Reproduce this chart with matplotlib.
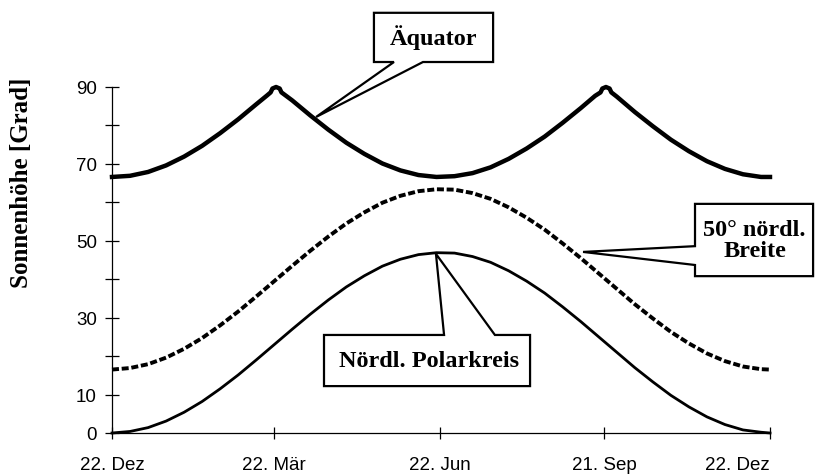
import matplotlib
matplotlib.use('Agg')
import matplotlib.pyplot as plt
from matplotlib.patches import Polygon

# days counted from 22 Dec
days = [0, 10, 20, 30, 40, 50, 60, 70, 80, 90, 100, 110, 120, 130, 140, 150, 160, 170, 180,
        190, 200, 210, 220, 230, 240, 250, 260, 270, 280, 290, 300, 310, 320, 330, 340, 350, 360, 365]
polarkreis = [0.0, 0.4, 1.4, 3.1, 5.4, 8.2, 11.5, 15.1, 19.0, 23.0, 27.0, 30.9, 34.6, 38.0, 40.9, 43.4,
              45.2, 46.4, 46.9, 46.8, 45.9, 44.4, 42.2, 39.5, 36.4, 32.8, 29.0, 25.0, 21.0, 17.0, 13.3,
              9.8, 6.8, 4.2, 2.2, 0.8, 0.2, 0.0]
breite50 = [16.5, 16.9, 17.9, 19.6, 21.9, 24.7, 28.0, 31.6, 35.5, 39.5, 43.5, 47.4, 51.1, 54.5, 57.4, 59.9,
            61.7, 62.9, 63.4, 63.3, 62.4, 60.9, 58.7, 56.0, 52.9, 49.3, 45.5, 41.5, 37.5, 33.5, 29.8,
            26.3, 23.3, 20.7, 18.7, 17.3, 16.6, 16.5]
days_aeq = [0, 10, 20, 30, 40, 50, 60, 70, 80, 86, 88, 89, 91, 93, 94, 96, 100, 110, 120, 130, 140, 150,
            160, 170, 180, 190, 200, 210, 220, 230, 240, 250, 260, 268, 271, 272, 274, 276, 277, 280,
            290, 300, 310, 320, 330, 340, 350, 360, 365]
aequator = [66.6, 66.9, 67.9, 69.6, 71.9, 74.7, 78.0, 81.6, 85.5, 87.8, 88.6, 89.6, 90.0, 89.6, 88.6, 87.9,
            86.5, 82.6, 78.9, 75.5, 72.6, 70.1, 68.3, 67.1, 66.6, 66.8, 67.6, 69.1, 71.3, 74.0, 77.1,
            80.7, 84.5, 87.7, 88.6, 89.6, 90.0, 89.6, 88.6, 87.5, 83.5, 79.8, 76.3, 73.3, 70.7, 68.7,
            67.3, 66.6, 66.6]

tick_days = [0, 90, 182, 273, 365]
tick_labels = ['22. Dez', '22. Mär', '22. Jun', '21. Sep', '22. Dez']

fig = plt.figure(figsize=(8.15, 4.77), dpi=100)
ax = fig.add_axes([112/815, 43/477, 658/815, 346/477])

ax.plot(days_aeq, aequator, color='black', lw=3.2, solid_joinstyle='round', clip_on=False)
ax.plot(days, breite50, color='black', lw=2.8, linestyle=(0, (1.8, 0.7)), clip_on=False)
ax.plot(days, polarkreis, color='black', lw=2.0, clip_on=False)

ax.set_xlim(0, 365)
ax.set_ylim(0, 90)
for s in ['top', 'right']:
    ax.spines[s].set_visible(False)
for s in ['left', 'bottom']:
    ax.spines[s].set_linewidth(0.9)

ax.set_yticks([0, 10, 30, 50, 70, 90])
ax.set_yticks([20, 40, 60, 80], minor=True)
ax.set_xticks(tick_days)
ax.set_xticklabels(tick_labels)
ax.tick_params(axis='y', which='both', direction='inout', length=10, width=0.9, pad=6,
               labelsize=13.5, labelfontfamily='Liberation Sans')
ax.tick_params(axis='x', direction='inout', length=9, width=0.9, pad=12,
               labelsize=13.5, labelfontfamily='Liberation Sans')
ax.get_xticklabels()[-1].set_horizontalalignment('right')

fig.text(22/815, 1 - 183/477, 'Sonnenhöhe [Grad]', rotation=90, ha='center', va='center',
         fontsize=18, fontweight='bold', family='Liberation Serif')

# callout boxes
box_kw = dict(fc='white', ec='black', lw=1.6, closed=True, clip_on=False, zorder=5)
ax.add_patch(Polygon([(145.3, 109.3), (211.4, 109.3), (211.4, 96.5), (172.5, 96.5),
                      (113.2, 82.2), (156.4, 96.5), (145.3, 96.5)], **box_kw))
ax.add_patch(Polygon([(323.4, 59.6), (388.9, 59.6), (388.9, 40.8), (323.4, 40.8),
                      (323.4, 43.7), (261.3, 47.1), (323.4, 48.6)], **box_kw))
ax.add_patch(Polygon([(117.6, 25.5), (184.2, 25.5), (179.7, 46.6), (212.4, 25.5),
                      (231.9, 25.5), (231.9, 12.2), (117.6, 12.2)], **box_kw))

txt_kw = dict(ha='center', va='center', fontsize=17.5, fontweight='bold',
              family='Liberation Serif', zorder=6)
ax.text(178.1, 103.0, 'Äquator', **txt_kw)
ax.text(356.5, 50.3, '50° nördl.\nBreite', linespacing=1.0, **txt_kw)
ax.text(175.8, 18.8, 'Nördl. Polarkreis', **txt_kw)

plt.savefig('out.png', dpi=100)
